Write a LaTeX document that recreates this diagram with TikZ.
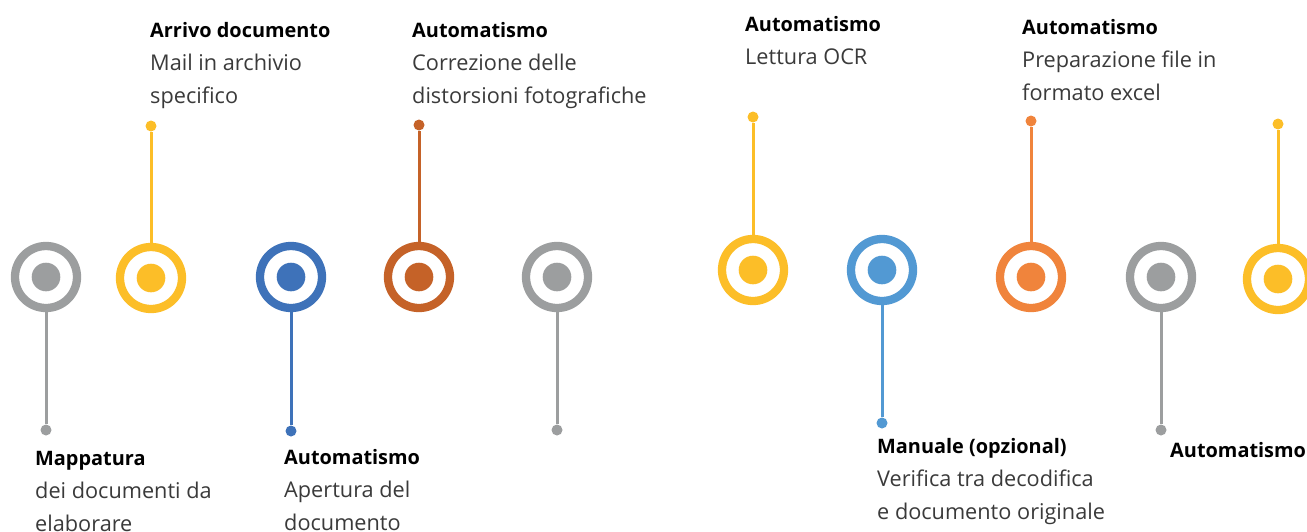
\documentclass[tikz,border=0pt]{standalone}
\usepackage{fontspec}
\setmainfont{Open Sans}
\usepackage{tikz}
\usetikzlibrary{
  chains,
  scopes,
  positioning
}
\definecolor{mgray}{RGB}{156,158,159}
\definecolor{myellow}{RGB}{252,190,40}
\definecolor{mblue}{RGB}{62,114,185}
\definecolor{mbrown}{RGB}{197,98,40}
\definecolor{mlightblue}{RGB}{82,153,211}
\definecolor{morange}{RGB}{240,132,60}
\definecolor{bodygray}{RGB}{58,58,58}
\newcommand{\phasetitle}[1]{{\fontsize{19.9}{33}\selectfont\bfseries\color{black}#1}}

\begin{document}
\begin{tikzpicture}[x=1pt,y=-1pt,
      milestone/.style={
         circle,
         draw=#1,
         line width=8.3pt,
         fill=white,
         inner sep=0pt,
         minimum size=62pt,
         path picture={\fill[#1] (path picture bounding box.center) circle (14.3pt);}
      },
      stem end/.style={
         circle,
         fill=#1,
         inner sep=0pt,
         minimum size=11pt
      },
      stem/.style={draw=#1,line width=3pt},
      % anchored at the baseline of the last line
      phase text/.style={
         anchor=base west,
         align=left,
         inner sep=0pt,
         text=bodygray,
         font=\fontsize{21.7}{33}\selectfont
      }
    ]
    \useasboundingbox (0,0) rectangle (1307,531);
    % milestones along the line
    \node (m1) [milestone=mgray] at (46,277) {};
    \node (m2) [milestone=myellow] at (151,278) {};
    \node (m3) [milestone=mblue] at (291,277) {};
    \node (m4) [milestone=mbrown] at (419,277) {};
    \node (m5) [milestone=mgray] at (557,277) {};
    \node (m6) [milestone=myellow] at (753,270) {};
    \node (m7) [milestone=mlightblue] at (882,270) {};
    \node (m8) [milestone=morange] at (1031,277) {};
    \node (m9) [milestone=mgray] at (1161,277) {};
    \node (m10) [milestone=myellow] at (1278,279) {};
    % stem ends
    \node (e1) [stem end=mgray] at (46,430) {};
    \node (e2) [stem end=myellow] at (151,126) {};
    \node (e3) [stem end=mblue] at (291,431) {};
    \node (e4) [stem end=mbrown] at (419,125) {};
    \node (e5) [stem end=mgray] at (557,430) {};
    \node (e6) [stem end=myellow] at (753,117) {};
    \node (e7) [stem end=mlightblue] at (882,423) {};
    \node (e8) [stem end=morange] at (1031,121) {};
    \node (e9) [stem end=mgray] at (1161,430) {};
    \node (e10) [stem end=myellow] at (1278,124) {};
  { [start chain]
       \chainin (m1);
       \chainin (e1)    [join=by {stem=mgray}];
  }
  { [start chain]
       \chainin (m2);
       \chainin (e2)    [join=by {stem=myellow}];
  }
  { [start chain]
       \chainin (m3);
       \chainin (e3)    [join=by {stem=mblue}];
  }
  { [start chain]
       \chainin (m4);
       \chainin (e4)    [join=by {stem=mbrown}];
  }
  { [start chain]
       \chainin (m5);
       \chainin (e5)    [join=by {stem=mgray}];
  }
  { [start chain]
       \chainin (m6);
       \chainin (e6)    [join=by {stem=myellow}];
  }
  { [start chain]
       \chainin (m7);
       \chainin (e7)    [join=by {stem=mlightblue}];
  }
  { [start chain]
       \chainin (m8);
       \chainin (e8)    [join=by {stem=morange}];
  }
  { [start chain]
       \chainin (m9);
       \chainin (e9)    [join=by {stem=mgray}];
  }
  { [start chain]
       \chainin (m10);
       \chainin (e10)    [join=by {stem=myellow}];
  }
    % phase texts
    \node (t1) [phase text] at (35,531) {\phasetitle{Mappatura}\\dei documenti da\\elaborare};
    \node (t2) [phase text] at (150,103) {\phasetitle{Arrivo documento}\\Mail in archivio\\specifico};
    \node (t3) [phase text] at (284,530) {\phasetitle{Automatismo}\\Apertura del\\documento};
    \node (t4) [phase text] at (412,103) {\phasetitle{Automatismo}\\Correzione delle\\distorsioni fotografiche};
    \node (t6) [phase text] at (745,64) {\phasetitle{Automatismo}\\Lettura OCR};
    \node (t7) [phase text] at (877,519) {\phasetitle{Manuale (opzional)}\\Verifica tra decodifica\\e documento originale};
    \node (t8) [phase text] at (1022,100) {\phasetitle{Automatismo}\\Preparazione file in\\formato excel};
    \node (t9) [phase text] at (1170,457) {\phasetitle{Automatismo}};
\end{tikzpicture}
\end{document}
